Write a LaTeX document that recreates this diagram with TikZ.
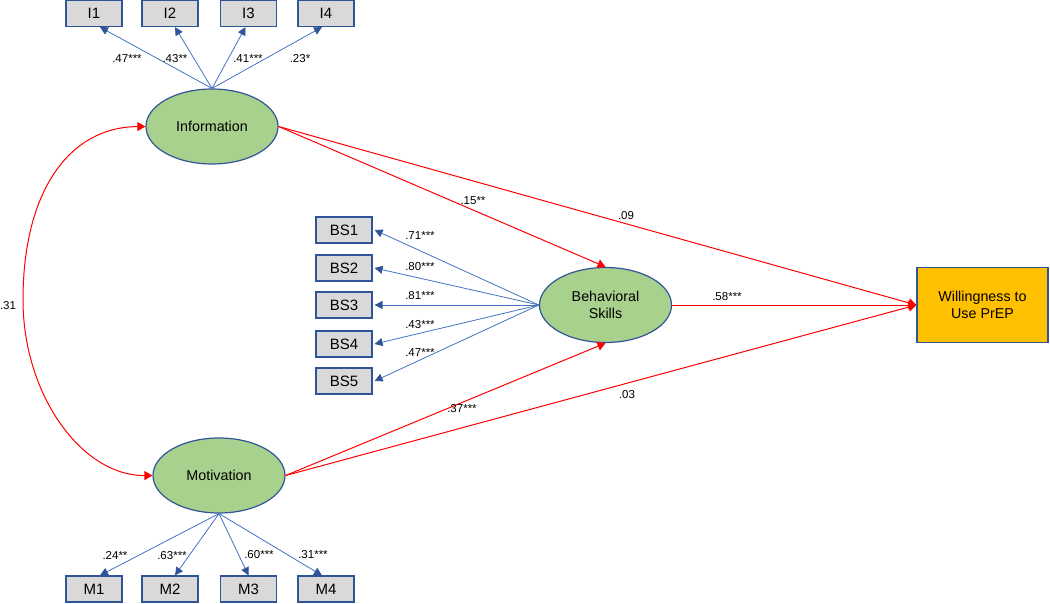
\documentclass[tikz,border=0pt]{standalone}
\usepackage{fontspec}
\setmainfont{Liberation Sans}
\usetikzlibrary{shapes.geometric,arrows.meta}
\definecolor{bdr}{HTML}{2F5597}
\definecolor{bline}{HTML}{4472C4}
\definecolor{lat}{HTML}{A9D18E}
\definecolor{boxg}{HTML}{D9D9D9}
\definecolor{will}{HTML}{FFC000}
\definecolor{txt}{HTML}{000000}
\definecolor{pred}{HTML}{FF0000}
\tikzset{
  latent/.style={ellipse, draw=bdr, line width=1.2pt, fill=lat, minimum width=132pt, minimum height=75pt, inner sep=0pt, align=center, font=\fontsize{14.3}{17}\selectfont, text=txt},
  ind/.style={rectangle, draw=bdr, line width=1.2pt, fill=boxg, minimum width=56pt, minimum height=26pt, inner sep=0pt, font=\fontsize{15}{17}\selectfont, text=txt},
  outc/.style={rectangle, draw=bdr, line width=1.2pt, fill=will, minimum width=131pt, minimum height=75pt, inner sep=0pt, align=center, font=\fontsize{14.3}{17}\selectfont, text=txt},
  lbl/.style={inner sep=0pt, font=\fontsize{11.5}{13}\selectfont, text=txt},
  load/.style={draw=bline, line width=0.8pt, -{Triangle[length=8pt,width=8pt,color=bdr]}},
  strpath/.style={draw=pred, line width=1pt, -{Triangle[length=8pt,width=9pt,color=pred]}},
}
\begin{document}
\begin{tikzpicture}[x=1pt,y=-1pt]
\useasboundingbox (0,0) rectangle (1050,604);
% latent variables
\node[latent] (info) at (212,126.5) {Information};
\node[latent] (motiv) at (219,475.5) {Motivation};
\node[latent] (bs) at (605.5,305) {Behavioral\\Skills};
\node[outc] (will) at (982.5,305) {Willingness to\\Use PrEP};
% indicators
\node[ind] (i1) at (94,13.5) {I1};
\node[ind] (i2) at (170,13.5) {I2};
\node[ind] (i3) at (248.5,13.5) {I3};
\node[ind] (i4) at (326,13.5) {I4};
\node[ind] (m1) at (94,589) {M1};
\node[ind] (m2) at (170,589) {M2};
\node[ind] (m3) at (248.5,589) {M3};
\node[ind] (m4) at (326,589) {M4};
\node[ind] (b1) at (344,230) {BS1};
\node[ind] (b2) at (344,268) {BS2};
\node[ind] (b3) at (344,305) {BS3};
\node[ind] (b4) at (344,344) {BS4};
\node[ind] (b5) at (344,381) {BS5};
% loadings
\draw[load] (info.north) -- ([xshift=6pt]i1.south);
\draw[load] (info.north) -- ([xshift=5pt]i2.south);
\draw[load] (info.north) -- ([xshift=-3pt]i3.south);
\draw[load] (info.north) -- ([xshift=-4pt]i4.south);
\draw[load] (motiv.south) -- ([xshift=6pt]m1.north);
\draw[load] (motiv.south) -- ([xshift=5pt]m2.north);
\draw[load] (motiv.south) -- (m3.north);
\draw[load] (motiv.south) -- ([xshift=-4pt]m4.north);
\draw[load] (bs.west) -- ([xshift=2pt]b1.east);
\draw[load] (bs.west) -- ([xshift=2pt]b2.east);
\draw[load] (bs.west) -- ([xshift=2pt]b3.east);
\draw[load] (bs.west) -- ([xshift=2pt]b4.east);
\draw[load] (bs.west) -- ([xshift=2pt]b5.east);
% structural paths
\draw[strpath] (info.east) -- (bs.north);
\draw[strpath] (info.east) -- (will.west);
\draw[strpath] (motiv.east) -- (bs.south);
\draw[strpath] (motiv.east) -- (will.west);
\draw[strpath] (bs.east) -- (will.west);
% covariance
\coordinate (arcl) at (23,300);
\draw[draw=pred, line width=1pt, {Triangle[length=8pt,width=9pt,color=pred]}-{Triangle[length=8pt,width=9pt,color=pred]}]
  (info.west) .. controls (70,127) and (23,190) .. (arcl) .. controls (23,395) and (82,476) .. (motiv.west);
% labels
\node[lbl] (li1) at (127,59) {.47***};
\node[lbl] (li2) at (175,59) {.43**};
\node[lbl] (li3) at (248,59) {.41***};
\node[lbl] (li4) at (300,59) {.23*};
\node[lbl] (lm1) at (115,555) {.24**};
\node[lbl] (lm2) at (172,556) {.63***};
\node[lbl] (lm3) at (259,555) {.60***};
\node[lbl] (lm4) at (313,555) {.31***};
\node[lbl] (lb1) at (420,236) {.71***};
\node[lbl] (lb2) at (420,267) {.80***};
\node[lbl] (lb3) at (420,296) {.81***};
\node[lbl] (lb4) at (420,325) {.43***};
\node[lbl] (lb5) at (420,353) {.47***};
\node[lbl] (lp1) at (473,201) {.15**};
\node[lbl] (lp2) at (626,216) {.09};
\node[lbl] (lp3) at (727,297) {.58***};
\node[lbl] (lp4) at (462,409) {.37***};
\node[lbl] (lp5) at (627,395) {.03};
\node[lbl] (lcov) at (8,306) {.31};
\end{tikzpicture}
\end{document}
